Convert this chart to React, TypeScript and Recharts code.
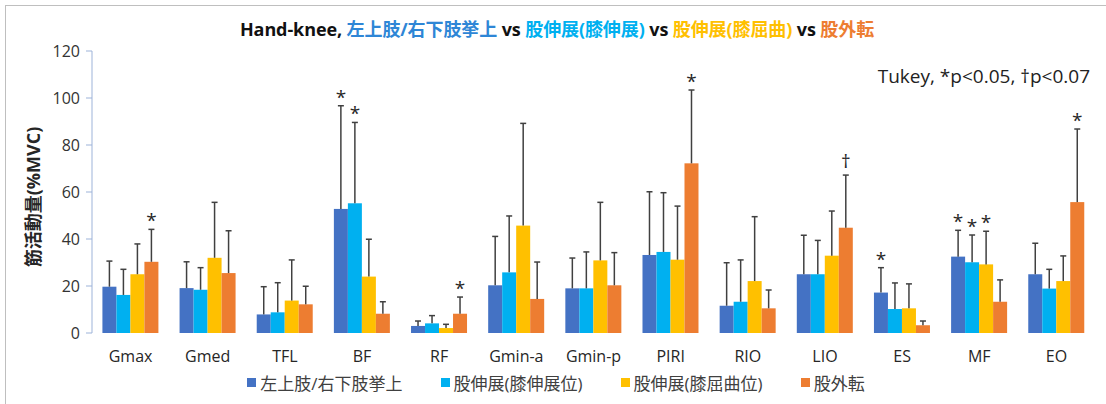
import { BarChart, Bar, XAxis, YAxis, Legend, LabelList } from "recharts";

const muscles = ["Gmax", "Gmed", "TFL", "BF", "RF", "Gmin-a", "Gmin-p", "PIRI", "RIO", "LIO", "ES", "MF", "EO"];

// 左上肢/右下肢挙上
const liftMean = [19.7, 19.1, 7.9, 52.8, 3.0, 20.3, 19.0, 33.2, 11.6, 25.0, 17.2, 32.5, 25.0];
const liftSd = [10.9, 11.2, 11.8, 43.9, 2.1, 20.8, 12.9, 26.9, 18.3, 16.6, 10.6, 11.2, 13.2];
const liftSig = ["", "", "", "*", "", "", "", "", "", "", "*", "*", ""];

// 股伸展(膝伸展位)
const extKneeExtMean = [16.2, 18.4, 8.8, 55.2, 4.1, 25.8, 19.0, 34.5, 13.3, 25.0, 10.2, 30.1, 18.9];
const extKneeExtSd = [10.9, 9.4, 12.6, 34.4, 3.3, 24.0, 15.5, 25.2, 17.8, 14.4, 11.1, 11.6, 8.2];
const extKneeExtSig = ["", "", "", "*", "", "", "", "", "", "", "", "*", ""];

// 股伸展(膝屈曲位)
const extKneeFlexMean = [25.0, 32.0, 13.8, 24.0, 2.1, 45.7, 30.9, 31.2, 22.1, 32.9, 10.5, 29.2, 22.1];
const extKneeFlexSd = [12.9, 23.6, 17.3, 15.9, 1.6, 43.5, 24.7, 22.8, 27.4, 19.0, 10.4, 14.1, 10.7];
const extKneeFlexSig = ["", "", "", "", "", "", "", "", "", "", "", "*", ""];

// 股外転
const abdMean = [30.3, 25.5, 12.2, 8.2, 8.2, 14.5, 20.3, 72.2, 10.5, 44.8, 3.3, 13.3, 55.7];
const abdSd = [13.8, 18.0, 7.7, 5.1, 7.1, 15.7, 13.9, 31.2, 7.8, 22.4, 1.8, 9.3, 31.1];
const abdSig = ["*", "", "", "", "*", "", "", "*", "", "†", "", "", "*"];

const yTicks = [0, 20, 40, 60, 80, 100, 120];
const boundaryTicks = muscles.map((_, i) => i).concat([muscles.length]);

const series = [
  { key: "lift", name: "左上肢/右下肢挙上", color: "#4472C4" },
  { key: "extKneeExt", name: "股伸展(膝伸展位)", color: "#00B0F0" },
  { key: "extKneeFlex", name: "股伸展(膝屈曲位)", color: "#FFC000" },
  { key: "abd", name: "股外転", color: "#ED7D31" },
];

const data = muscles.map((m, i) => ({
  muscle: m,
  lift: liftMean[i],
  liftSd: liftSd[i],
  liftSig: liftSig[i],
  extKneeExt: extKneeExtMean[i],
  extKneeExtSd: extKneeExtSd[i],
  extKneeExtSig: extKneeExtSig[i],
  extKneeFlex: extKneeFlexMean[i],
  extKneeFlexSd: extKneeFlexSd[i],
  extKneeFlexSig: extKneeFlexSig[i],
  abd: abdMean[i],
  abdSd: abdSd[i],
  abdSig: abdSig[i],
}));

const FONT = "'Open Sans', 'Noto Sans CJK JP', sans-serif";

// bar + upward-only error whisker
const barWithError = (key: string) => (props: any) => {
  const { x, y, width, height, fill, payload } = props;
  const value = payload[key];
  const sd = payload[key + "Sd"];
  const pxPerUnit = value ? height / value : 0;
  const cx = x + width / 2;
  const top = y - sd * pxPerUnit;
  return (
    <g>
      <rect x={x} y={y} width={width} height={height} fill={fill} />
      <line x1={cx} y1={y} x2={cx} y2={top} stroke="#404040" strokeWidth={1.5} />
      <line x1={cx - 3} y1={top} x2={cx + 3} y2={top} stroke="#404040" strokeWidth={1.5} />
    </g>
  );
};

const sigLabel = (key: string) => (props: any) => {
  const { x, y, width, height, value, index } = props;
  if (!value) return null;
  const row = data[index] as any;
  const pxPerUnit = height / row[key];
  const top = y - row[key + "Sd"] * pxPerUnit;
  return (
    <text
      x={x + width / 2}
      y={top - (value === "*" ? 2 : 7)}
      textAnchor="middle"
      fontSize={19}
      fontFamily={FONT}
      fill="#262626"
    >
      {value}
    </text>
  );
};

const renderLegend = () => (
  <div style={{ display: "flex", justifyContent: "center", gap: 38, fontFamily: FONT, fontSize: 17, color: "#404040", paddingLeft: 6 }}>
    {series.map((s) => (
      <div key={s.key} style={{ display: "flex", alignItems: "center", gap: 4 }}>
        <span style={{ width: 9, height: 9, background: s.color, display: "inline-block" }} />
        <span>{s.name}</span>
      </div>
    ))}
  </div>
);

export default function App() {
  return (
    <div style={{ position: "absolute", left: 0, top: 0, width: 1106, height: 404, background: "#fff", overflow: "hidden" }}>
      <div style={{ position: "absolute", left: 5, top: 5, width: 1110, height: 420, border: "1px solid #BFBFBF" }} />
      <div
        style={{
          position: "absolute",
          top: 15,
          left: 0,
          width: 1114,
          textAlign: "center",
          fontFamily: FONT,
          fontWeight: 700,
          fontSize: 18,
          color: "#111",
          letterSpacing: -0.1,
        }}
      >
        Hand-knee, <span style={{ color: "#2E86D6" }}>左上肢/右下肢挙上</span> vs{" "}
        <span style={{ color: "#00B0F0" }}>股伸展(膝伸展)</span> vs{" "}
        <span style={{ color: "#FFC000" }}>股伸展(膝屈曲)</span> vs{" "}
        <span style={{ color: "#ED7D31" }}>股外転</span>
      </div>
      <div style={{ position: "absolute", top: 63, right: 16, fontFamily: FONT, fontSize: 19, color: "#222" }}>
        Tukey, *p&lt;0.05, †p&lt;0.07
      </div>
      <div
        style={{
          position: "absolute",
          left: 32,
          top: 197,
          transform: "translate(-50%, -50%) rotate(-90deg)",
          fontFamily: FONT,
          fontWeight: 700,
          fontSize: 18,
          color: "#262626",
          whiteSpace: "nowrap",
        }}
      >
        筋活動量(%MVC)
      </div>
      <div style={{ position: "absolute", left: 0, top: 0 }}>
        <BarChart
          width={1106}
          height={404}
          data={data}
          barGap={0}
          barCategoryGap="13.5%"
          margin={{ top: 51, right: 11, left: 20, bottom: 41 }}
        >
          <XAxis
            xAxisId="bounds"
            type="number"
            domain={[0, muscles.length]}
            ticks={boundaryTicks}
            tickFormatter={() => ""}
            height={0}
            axisLine={{ stroke: "#A6A6A6" }}
            tickLine={{ stroke: "#A6A6A6" }}
            tickSize={6}
            allowDataOverflow
          />
          <XAxis
            xAxisId="cat"
            dataKey="muscle"
            axisLine={false}
            tickLine={false}
            tickMargin={12}
            height={30}
            tick={{ fontSize: 16, fill: "#262626", fontFamily: FONT }}
            interval={0}
          />
          <YAxis
            domain={[0, 120]}
            ticks={yTicks}
            width={72}
            axisLine={{ stroke: "#9DB3D9" }}
            tickLine={{ stroke: "#9DB3D9" }}
            tickSize={6}
            tickMargin={6}
            tick={{ fontSize: 16, fill: "#333", fontFamily: FONT }}
          />
          <Legend
            verticalAlign="middle"
            align="center"
            layout="horizontal"
            content={renderLegend}
            wrapperStyle={{ top: 370, left: 0, width: 1106 }}
          />
          {series.map((s) => (
            <Bar
              key={s.key}
              xAxisId="cat"
              dataKey={s.key}
              name={s.name}
              fill={s.color}
              isAnimationActive={false}
              shape={barWithError(s.key)}
            >
              <LabelList dataKey={s.key + "Sig"} content={sigLabel(s.key)} />
            </Bar>
          ))}
        </BarChart>
      </div>
    </div>
  );
}
